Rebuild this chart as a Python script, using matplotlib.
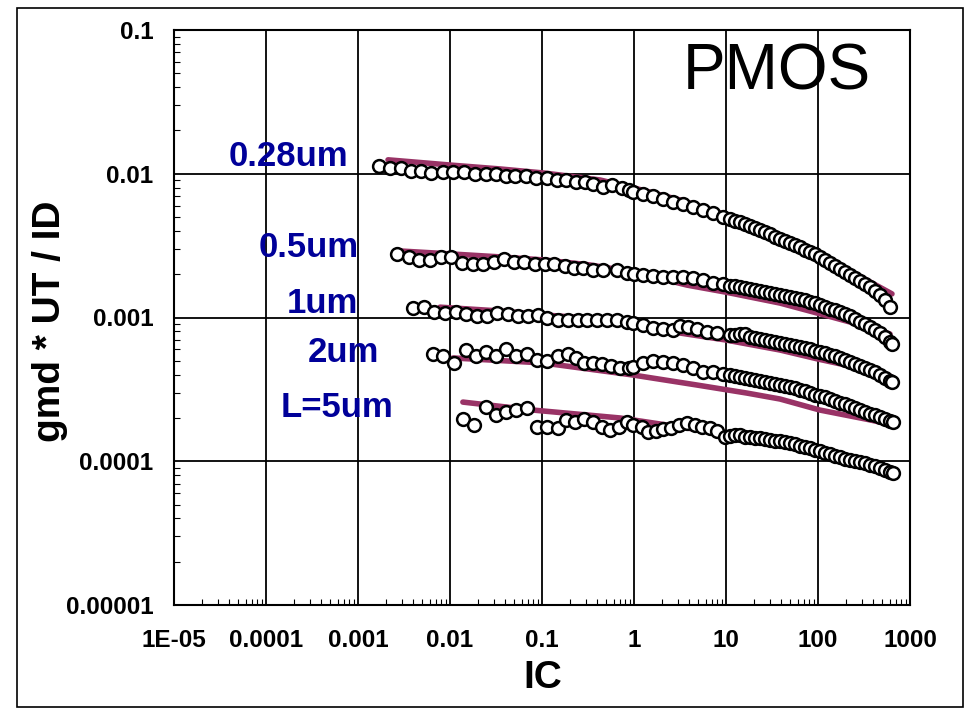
import matplotlib
matplotlib.use('Agg')
import matplotlib.pyplot as plt
from matplotlib.ticker import LogLocator, NullFormatter
from matplotlib.patches import Rectangle

plt.rcParams['font.family'] = ['Liberation Sans', 'DejaVu Sans']

# dense high-IC part of the measured sweeps (same IC points for every length)
ic_tail = [11.05, 12.5, 14.2, 16.1, 18.2, 20.7, 23.4, 26.5, 30.1, 34.1, 38.6,
           43.8, 49.6, 56.2, 63.7, 72.2, 81.9, 92.8, 105, 119, 135, 153, 173,
           197, 223, 252, 286, 324, 367, 417, 472, 535, 606]

# L = 0.28um
ic_028 = [0.00169, 0.00223, 0.00293, 0.00377, 0.00484, 0.00621, 0.00839, 0.0108,
          0.0142, 0.0187, 0.0246, 0.0316, 0.0406, 0.0509, 0.0670, 0.0861, 0.113,
          0.146, 0.182, 0.234, 0.293, 0.358, 0.460, 0.577, 0.741, 0.883, 0.975,
          1.25, 1.61, 2.07, 2.65, 3.41, 4.38, 5.62, 7.22, 9.27] + ic_tail
gm_028 = [0.0113, 0.0110, 0.0110, 0.0104, 0.0104, 0.0101, 0.0103, 0.0103, 0.0103,
          0.00996, 0.00996, 0.00996, 0.00965, 0.00965, 0.00965, 0.00934, 0.00934,
          0.00905, 0.00905, 0.00876, 0.00876, 0.00849, 0.00809, 0.00835, 0.00796,
          0.00771, 0.00747, 0.00723, 0.00700, 0.00667, 0.00636, 0.00616, 0.00587,
          0.00560, 0.00533, 0.00500,
          0.00484, 0.00469, 0.00462, 0.00447, 0.00433, 0.00419, 0.00406, 0.00393,
          0.00381, 0.00363, 0.00352, 0.00341, 0.00330, 0.00319, 0.00309, 0.00295,
          0.00286, 0.00277, 0.00264, 0.00251, 0.00239, 0.00228, 0.00218, 0.00207,
          0.00198, 0.00188, 0.00179, 0.00171, 0.00163, 0.00153, 0.00143, 0.00132,
          0.00118]

# L = 0.5um
ic_05 = [0.00265, 0.00358, 0.00460, 0.00606, 0.00799, 0.0103, 0.0135, 0.0178,
         0.0228, 0.0301, 0.0386, 0.0496, 0.0637, 0.0839, 0.108, 0.135, 0.178,
         0.223, 0.279, 0.358, 0.460, 0.653, 0.839, 1.0, 1.25, 1.61, 2.07, 2.65,
         3.41, 4.38, 5.62, 7.22, 9.27] + ic_tail + [637]
gm_05 = [0.00277, 0.00264, 0.00251, 0.00251, 0.00264, 0.00264, 0.00239, 0.00236,
         0.00236, 0.00243, 0.00255, 0.00243, 0.00243, 0.00236, 0.00236, 0.00236,
         0.00228, 0.00221, 0.00221, 0.00214, 0.00214, 0.00214, 0.00204, 0.00202,
         0.00198, 0.00194, 0.00191, 0.00191, 0.00191, 0.00188, 0.00182, 0.00174,
         0.00171,
         0.00166, 0.00166, 0.00163, 0.00160, 0.00158, 0.00155, 0.00153, 0.00150,
         0.00148, 0.00146, 0.00143, 0.00141, 0.00139, 0.00137, 0.00135, 0.00132,
         0.00128, 0.00126, 0.00122, 0.00118, 0.00115, 0.00113, 0.00109, 0.00106,
         0.00102, 0.000976, 0.000930, 0.000901, 0.000859, 0.000818, 0.000780,
         0.000732, 0.000675, 0.000654]

# L = 1um
ic_1 = [0.00396, 0.00522, 0.00670, 0.00883, 0.0116, 0.0149, 0.0196, 0.0252,
        0.0324, 0.0427, 0.0548, 0.0705, 0.0905, 0.113, 0.149, 0.192, 0.246,
        0.308, 0.396, 0.509, 0.653, 0.839, 0.975, 1.25, 1.61, 2.07, 2.65, 3.16,
        3.86, 4.84, 6.21, 7.99] + ic_tail + [637]
gm_1 = [0.00116, 0.00118, 0.00109, 0.00107, 0.00109, 0.00106, 0.00102, 0.00102,
        0.00107, 0.00106, 0.00102, 0.00102, 0.00104, 0.000992, 0.000961, 0.000961,
        0.000961, 0.000961, 0.000961, 0.000961, 0.000961, 0.000930, 0.000916,
        0.000887, 0.000845, 0.000832, 0.000818, 0.000873, 0.000859, 0.000832,
        0.000793, 0.000780,
        0.000755, 0.000755, 0.000768, 0.000768, 0.000732, 0.000720, 0.000709,
        0.000697, 0.000686, 0.000675, 0.000665, 0.000654, 0.000644, 0.000634,
        0.000624, 0.000614, 0.000604, 0.000585, 0.000575, 0.000566, 0.000548,
        0.000540, 0.000523, 0.000506, 0.000490, 0.000475, 0.000460, 0.000445,
        0.000431, 0.000418, 0.000398, 0.000379, 0.000362, 0.000356]

# L = 2um
ic_2 = [0.00653, 0.00839, 0.0111, 0.0149, 0.0192, 0.0246, 0.0316, 0.0406, 0.0522,
        0.0687, 0.0883, 0.113, 0.149, 0.192, 0.234, 0.286, 0.358, 0.449, 0.562,
        0.705, 0.883, 0.975, 1.25, 1.61, 2.07, 2.65, 3.41, 4.38, 5.62, 7.22,
        9.27] + ic_tail + [653]
gm_2 = [0.000557, 0.000540, 0.000483, 0.000594, 0.000540, 0.000575, 0.000540,
        0.000604, 0.000540, 0.000557, 0.000506, 0.000498, 0.000540, 0.000557,
        0.000523, 0.000483, 0.000483, 0.000475, 0.000460, 0.000445, 0.000445,
        0.000453, 0.000483, 0.000498, 0.000490, 0.000483, 0.000467, 0.000445,
        0.000418, 0.000418, 0.000405,
        0.000398, 0.000392, 0.000386, 0.000379, 0.000373, 0.000368, 0.000362,
        0.000356, 0.000350, 0.000345, 0.000339, 0.000334, 0.000329, 0.000323,
        0.000313, 0.000308, 0.000298, 0.000289, 0.000284, 0.000280, 0.000271,
        0.000262, 0.000254, 0.000250, 0.000242, 0.000235, 0.000227, 0.000220,
        0.000213, 0.000210, 0.000203, 0.000197, 0.000191, 0.000188]

# L = 5um
ic_5 = [0.0138, 0.0182, 0.0246, 0.0316, 0.0406, 0.0522, 0.0687, 0.0883, 0.113,
        0.149, 0.182, 0.228, 0.286, 0.358, 0.449, 0.548, 0.687, 0.839, 0.975,
        1.22, 1.42, 1.73, 2.07, 2.52, 3.08, 3.77, 4.60, 5.48, 6.70, 7.99,
        9.75] + ic_tail + [653]
gm_5 = [0.000197, 0.000179, 0.000238, 0.000210, 0.000220, 0.000227, 0.000235,
        0.000173, 0.000173, 0.000170, 0.000194, 0.000188, 0.000197, 0.000188,
        0.000173, 0.000165, 0.000173, 0.000188, 0.000179, 0.000173, 0.000160,
        0.000162, 0.000168, 0.000170, 0.000179, 0.000185, 0.000179, 0.000173,
        0.000170, 0.000162, 0.000148,
        0.000150, 0.000152, 0.000152, 0.000148, 0.000148, 0.000145, 0.000145,
        0.000143, 0.000141, 0.000138, 0.000138, 0.000136, 0.000134, 0.000132,
        0.000128, 0.000126, 0.000124, 0.000120, 0.000118, 0.000114, 0.000112,
        0.000109, 0.000107, 0.000104, 0.000102, 0.000100, 0.0000988, 0.0000972,
        0.0000942, 0.0000927, 0.0000898, 0.0000869, 0.0000842, 0.0000828]

# model curves
mod_ic_028 = [0.00212, 0.01, 0.0349, 0.108, 0.427, 1.0, 3.16, 10, 30.1, 100, 223, 367, 637]
mod_gm_028 = [0.0125, 0.0115, 0.0108, 0.0101, 0.00905, 0.00796, 0.00657, 0.00516,
              0.00387, 0.00277, 0.00211, 0.00177, 0.00146]
mod_ic_05 = [0.00293, 0.01, 0.0349, 0.108, 0.332, 1.0, 3.77, 10, 38.6, 100, 223, 367, 606]
mod_gm_05 = [0.00290, 0.00277, 0.00264, 0.00251, 0.00232, 0.00207, 0.00168, 0.00150,
             0.00126, 0.00107, 0.000930, 0.000845, 0.000768]
mod_ic_1 = [0.00778, 0.0349, 0.108, 0.427, 1.0, 3.16, 10, 38.6, 100, 223, 606]
mod_gm_1 = [0.00118, 0.00111, 0.00104, 0.000976, 0.000916, 0.000780, 0.000697,
            0.000594, 0.000514, 0.000460, 0.000392]
mod_ic_2 = [0.0108, 0.1025, 0.975, 4.84, 16.9, 38.6, 105, 367, 577]
mod_gm_2 = [0.000523, 0.000483, 0.000398, 0.000339, 0.000298, 0.000271, 0.000227,
            0.000194, 0.000182]
mod_ic_5 = [0.0138, 0.0799, 0.705, 5.22, 16.9, 49.6, 173, 606]
mod_gm_5 = [0.000258, 0.000227, 0.000200, 0.000165, 0.000141, 0.000132, 0.000109,
            0.0000869]

curve_labels = ['0.28um', '0.5um', '1um', '2um', 'L=5um']
x_ticks = [1e-5, 1e-4, 1e-3, 1e-2, 1e-1, 1, 10, 100, 1000]
x_ticklabels = ['1E-05', '0.0001', '0.001', '0.01', '0.1', '1', '10', '100', '1000']
y_ticks = [1e-5, 1e-4, 1e-3, 1e-2, 1e-1]
y_ticklabels = ['0.00001', '0.0001', '0.001', '0.01', '0.1']

# label placement (axes fraction)
label_x = [0.156, 0.183, 0.202, 0.230, 0.221]
label_y = [0.7635, 0.605, 0.508, 0.4226, 0.327]

fig = plt.figure(figsize=(9.66, 7.09), dpi=100)
ax = fig.add_axes([174 / 966, 1 - 605 / 709, 736 / 966, 575 / 709])
ax.set_xscale('log')
ax.set_yscale('log')

models = [(mod_ic_028, mod_gm_028), (mod_ic_05, mod_gm_05), (mod_ic_1, mod_gm_1),
          (mod_ic_2, mod_gm_2), (mod_ic_5, mod_gm_5)]
meas = [(ic_028, gm_028), (ic_05, gm_05), (ic_1, gm_1), (ic_2, gm_2), (ic_5, gm_5)]

for ic, gm in models:
    ax.plot(ic, gm, color='#993366', lw=4.0, solid_capstyle='round', zorder=2)
for ic, gm in meas:
    ax.plot(ic, gm, 'o', ls='none', ms=9.2, mfc='white', mec='black', mew=1.8, zorder=3)

ax.set_xlim(1e-5, 1e3)
ax.set_ylim(1e-5, 0.1)
ax.set_xticks(x_ticks)
ax.set_xticklabels(x_ticklabels)
ax.set_yticks(y_ticks)
ax.set_yticklabels(y_ticklabels)
ax.xaxis.set_minor_locator(LogLocator(base=10, subs=range(2, 10), numticks=30))
ax.yaxis.set_minor_locator(LogLocator(base=10, subs=range(2, 10), numticks=30))
ax.xaxis.set_minor_formatter(NullFormatter())
ax.yaxis.set_minor_formatter(NullFormatter())

ax.grid(True, which='major', color='black', lw=1.3)
ax.tick_params(which='major', length=0, labelsize=17.5)
ax.tick_params(axis='x', which='major', pad=17)
ax.tick_params(axis='y', which='major', pad=15)
ax.tick_params(which='minor', direction='in', length=4.3, width=0.8, color='black')
for lbl in ax.get_xticklabels() + ax.get_yticklabels():
    lbl.set_fontweight('bold')
for s in ax.spines.values():
    s.set_linewidth(1.5)

for name, lx, ly in zip(curve_labels, label_x, label_y):
    ax.text(lx, ly, name, transform=ax.transAxes, ha='center', va='baseline',
            fontsize=25, fontweight='bold', color='#000099', zorder=5)

ax.text(0.8186, 0.8957, 'PMOS', transform=ax.transAxes, ha='center', va='baseline',
        fontsize=46, zorder=5)

fig.text(0.0518, 0.547, 'gmd * UT / ID', rotation=90, ha='center', va='center',
         fontsize=28, fontweight='bold')
fig.text(0.562, 0.0296, 'IC', ha='center', va='baseline', fontsize=28, fontweight='bold')

fig.patches.append(Rectangle((0.0176, 0.003), 0.9793, 0.9857, transform=fig.transFigure,
                             fill=False, lw=1.2, ec='black'))

fig.savefig('out.png', dpi=100)
